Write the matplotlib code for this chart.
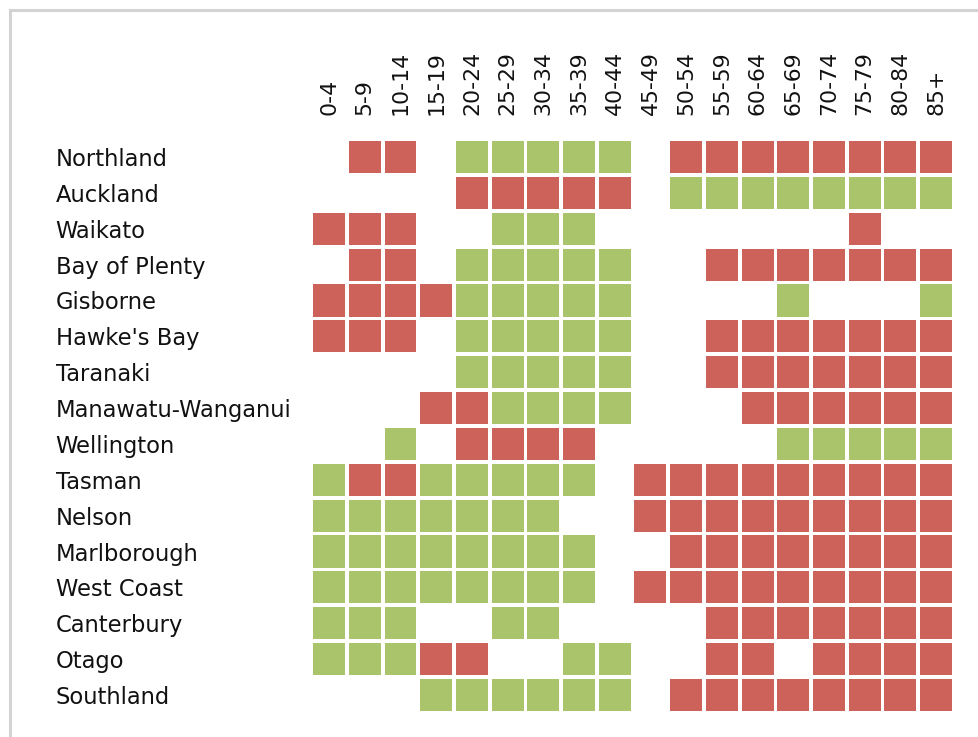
import matplotlib.pyplot as plt
from matplotlib.patches import Rectangle
from matplotlib.lines import Line2D

age_groups = ['0-4', '5-9', '10-14', '15-19', '20-24', '25-29', '30-34', '35-39', '40-44',
              '45-49', '50-54', '55-59', '60-64', '65-69', '70-74', '75-79', '80-84', '85+']
regions = ['Northland', 'Auckland', 'Waikato', 'Bay of Plenty', 'Gisborne', "Hawke's Bay",
           'Taranaki', 'Manawatu-Wanganui', 'Wellington', 'Tasman', 'Nelson', 'Marlborough',
           'West Coast', 'Canterbury', 'Otago', 'Southland']

# R = red cell, G = green cell, . = empty
grid = [
    '.RR.GGGGG.RRRRRRRR',  # Northland
    '....RRRRR.GGGGGGGG',  # Auckland
    'RRR..GGG.......R..',  # Waikato
    '.RR.GGGGG..RRRRRRR',  # Bay of Plenty
    'RRRRGGGGG....G...G',  # Gisborne
    'RRR.GGGGG..RRRRRRR',  # Hawke's Bay
    '....GGGGG..RRRRRRR',  # Taranaki
    '...RRGGGG...RRRRRR',  # Manawatu-Wanganui
    '..G.RRRR.....GGGGG',  # Wellington
    'GRRGGGGG.RRRRRRRRR',  # Tasman
    'GGGGGGG..RRRRRRRRR',  # Nelson
    'GGGGGGGG..RRRRRRRR',  # Marlborough
    'GGGGGGGG.RRRRRRRRR',  # West Coast
    'GGG..GG....RRRRRRR',  # Canterbury
    'GGGRR..GG..RR.RRRR',  # Otago
    '...GGGGGG.RRRRRRRR',  # Southland
]

colors = {'R': '#CD625A', 'G': '#A9C46A'}
text_color = '#111111'

fig = plt.figure(figsize=(9.79, 7.37), dpi=100)
ax = fig.add_axes([0.3179, 0.0327, 0.6565, 0.7786])

size = 0.895
for i, row in enumerate(grid):
    for j, c in enumerate(row):
        if c in colors:
            ax.add_patch(Rectangle((j - size / 2, i - size / 2), size, size,
                                   facecolor=colors[c], edgecolor='none'))

ax.set_xlim(-0.5, len(age_groups) - 0.5)
ax.set_ylim(len(regions) - 0.5, -0.5)
for s in ax.spines.values():
    s.set_visible(False)

ax.set_xticks(range(len(age_groups)))
ax.set_xticklabels(age_groups, rotation=90, fontsize=15.8, color=text_color)
ax.xaxis.tick_top()
ax.tick_params(axis='x', length=0, pad=17)

ax.set_yticks(range(len(regions)))
ax.set_yticklabels(regions, fontsize=16.3, color=text_color)
ax.tick_params(axis='y', length=0, pad=184)
for lbl in ax.get_yticklabels():
    lbl.set_ha('left')

# light frame around the picture (runs off the right and bottom edges)
fig.add_artist(Line2D([9.5 / 979, 1.01], [1 - 9.5 / 737] * 2, transform=fig.transFigure,
                      color='#d3d3d3', lw=2.2))
fig.add_artist(Line2D([9.5 / 979] * 2, [-0.01, 1 - 9.5 / 737], transform=fig.transFigure,
                      color='#d3d3d3', lw=2.2))

fig.savefig('out.png', dpi=100)
